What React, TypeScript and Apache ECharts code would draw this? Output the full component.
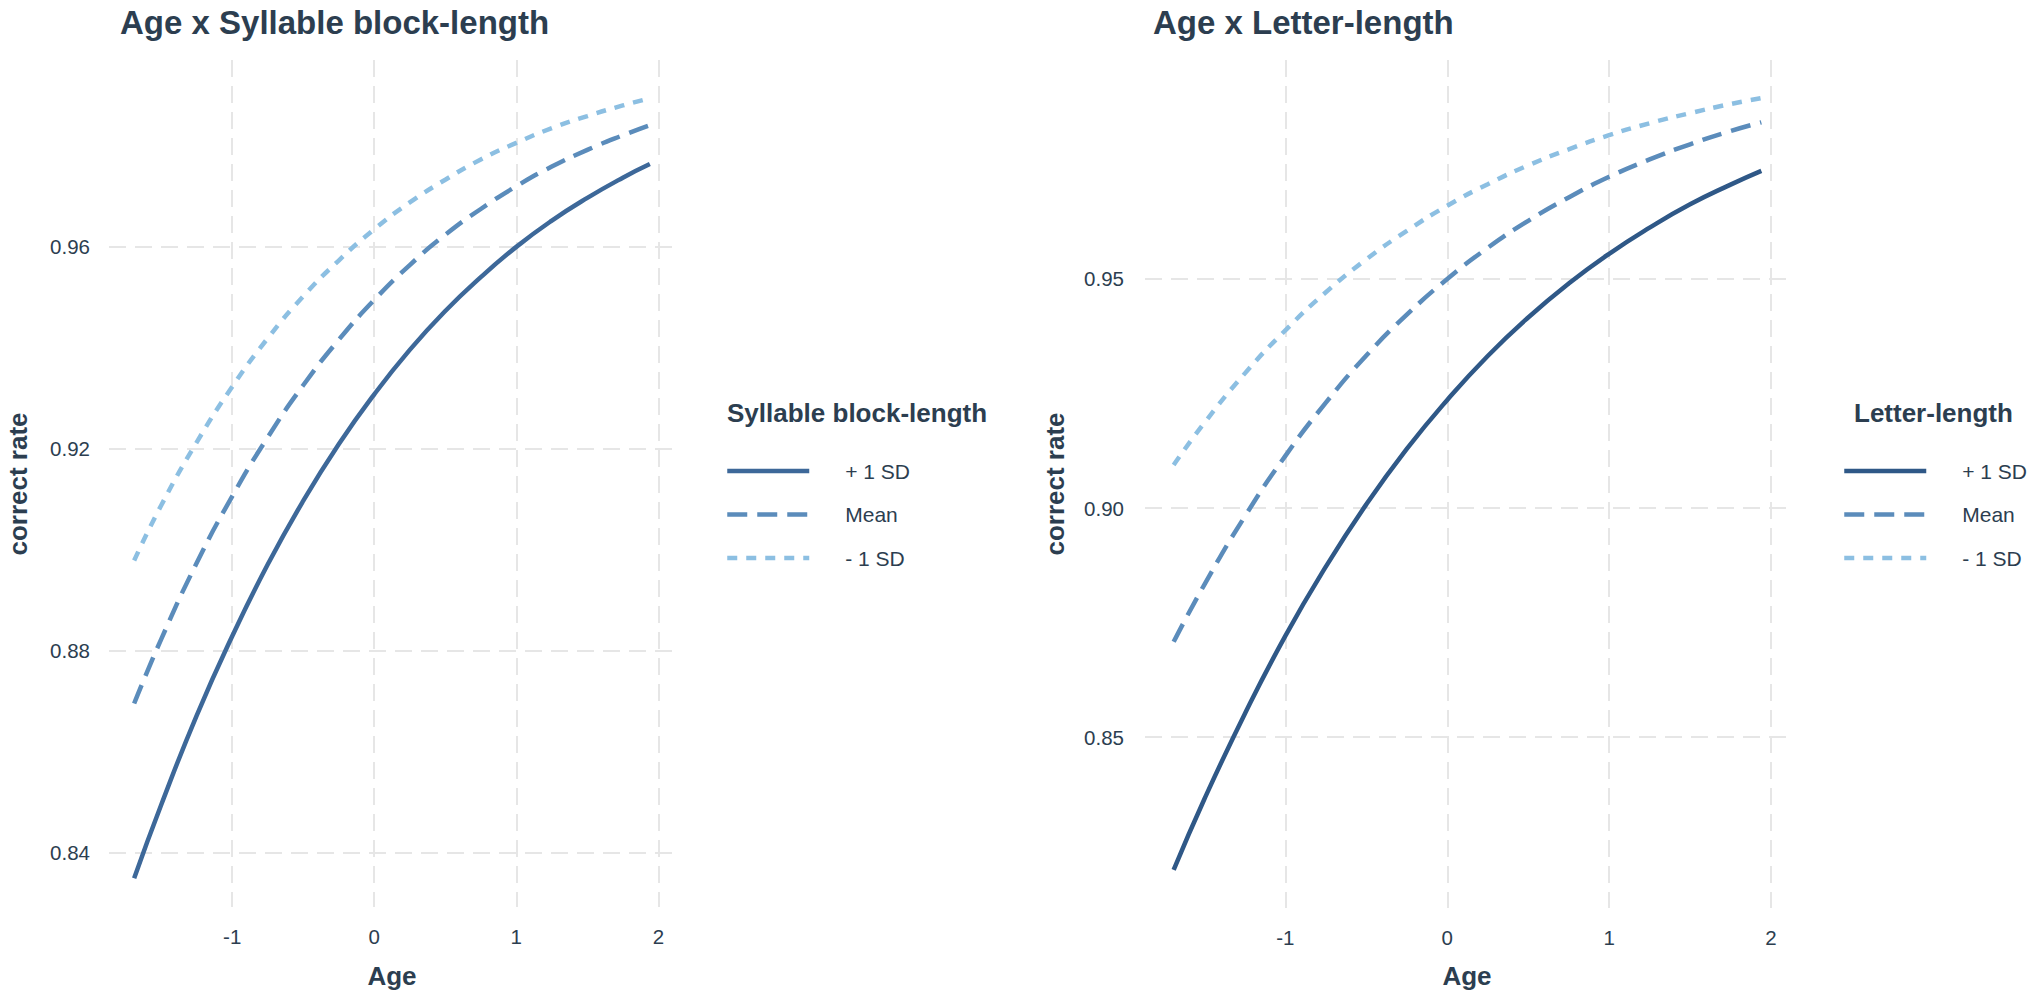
import React, { useEffect, useRef } from "react";
import * as echarts from "echarts";

// ---- data ----
const ageValues = [-1.69, -1.5, -1.25, -1, -0.75, -0.5, -0.25, 0, 0.25, 0.5, 0.75, 1, 1.25, 1.5, 1.75, 1.94];

const syllablePlus1SD = [0.835, 0.8495, 0.8672, 0.8829, 0.8971, 0.9097, 0.9209, 0.9308, 0.9396, 0.9473, 0.954, 0.96, 0.9652, 0.9697, 0.9737, 0.9764];
const syllableMean = [0.8696, 0.8823, 0.8974, 0.9106, 0.9223, 0.9326, 0.9416, 0.9495, 0.9564, 0.9624, 0.9675, 0.972, 0.9759, 0.9792, 0.9821, 0.9841];
const syllableMinus1SD = [0.8979, 0.9088, 0.9213, 0.9323, 0.9419, 0.9502, 0.9573, 0.9635, 0.9688, 0.9733, 0.9773, 0.9806, 0.9835, 0.9859, 0.988, 0.9894];

const letterPlus1SD = [0.821, 0.8365, 0.8551, 0.8721, 0.8872, 0.9008, 0.9129, 0.9236, 0.9332, 0.9416, 0.949, 0.9555, 0.9612, 0.9663, 0.9706, 0.9736];
const letterMean = [0.8708, 0.8833, 0.8982, 0.9114, 0.923, 0.9333, 0.9422, 0.95, 0.9568, 0.9627, 0.9678, 0.9723, 0.9761, 0.9794, 0.9823, 0.9842];
const letterMinus1SD = [0.9094, 0.9186, 0.9294, 0.9388, 0.9471, 0.9543, 0.9605, 0.966, 0.9707, 0.9748, 0.9783, 0.9814, 0.984, 0.9862, 0.9882, 0.9895];

const levelNames = ["+ 1 SD", "Mean", "- 1 SD"];
const xTicks = [-1, 0, 1, 2];
const syllableYTicks = [0.84, 0.88, 0.92, 0.96];
const letterYTicks = [0.85, 0.9, 0.95];

const panelTitles = ["Age x Syllable block-length", "Age x Letter-length"];
const legendTitles = ["Syllable block-length", "Letter-length"];
const xAxisTitle = "Age";
const yAxisTitle = "correct rate";

// ---- styles ----
const FONT = '"Liberation Sans", Arial, Helvetica, sans-serif';
const TEXT = "#2c3e50";
const GRID_COLOR = "#e6e6e6";
const syllableColors = ["#3d6899", "#5b8cbb", "#8cbfe2"];
const letterColors = ["#2f5887", "#5b8cbb", "#8cbfe2"];
const dashes: any[] = ["solid", [20, 10], [10, 9]];
const LINE_W = 4.5;

function buildOption() {
  const panels = [
    { values: [syllablePlus1SD, syllableMean, syllableMinus1SD], colors: syllableColors, yTicks: syllableYTicks, yMin: 0.8293, yMax: 0.997 },
    { values: [letterPlus1SD, letterMean, letterMinus1SD], colors: letterColors, yTicks: letterYTicks, yMin: 0.8127, yMax: 0.9978 },
  ];

  const grids = [
    { left: 109, top: 60, width: 566, height: 847 },
    { left: 1145, top: 60, width: 645, height: 848 },
  ];

  const splitLine = { show: true, lineStyle: { color: GRID_COLOR, width: 2, type: [17, 9] } };

  const xAxes = panels.map((_, i) => ({
    type: "value",
    gridIndex: i,
    min: -1.867,
    max: 2.117,
    axisLine: { show: false },
    axisTick: { show: false, customValues: xTicks },
    axisLabel: { customValues: xTicks, fontSize: 20.5, fontFamily: FONT, color: TEXT, margin: 19 },
    splitLine,
  }));

  const yAxes = panels.map((p, i) => ({
    type: "value",
    gridIndex: i,
    min: p.yMin,
    max: p.yMax,
    axisLine: { show: false },
    axisTick: { show: false, customValues: p.yTicks },
    axisLabel: {
      customValues: p.yTicks,
      fontSize: 20.5,
      fontFamily: FONT,
      color: TEXT,
      margin: i === 0 ? 19 : 21,
      formatter: (v: number) => v.toFixed(2),
    },
    splitLine,
  }));

  const series: any[] = [];
  panels.forEach((p, pi) => {
    p.values.forEach((vals, li) => {
      series.push({
        type: "line",
        name: levelNames[li],
        xAxisIndex: pi,
        yAxisIndex: pi,
        data: ageValues.map((a, k) => [a, vals[k]]),
        symbol: "none",
        smooth: true,
        silent: true,
        lineStyle: { color: p.colors[li], width: LINE_W, type: dashes[li], cap: "butt" },
        itemStyle: { color: p.colors[li] },
        z: 10 - li,
      });
    });
  });

  const legendLefts = [725, 1842];
  const legends = panels.map((p, pi) => ({
    orient: "vertical",
    left: legendLefts[pi],
    top: 460.5,
    itemWidth: 82,
    itemHeight: 21,
    itemGap: 22.5,
    selectedMode: false,
    padding: 0,
    textStyle: { fontSize: 21, fontFamily: FONT, color: TEXT, padding: [0, 0, 0, 31] },
    itemStyle: { opacity: 0 },
    data: levelNames.map((n, li) => ({
      name: n,
      itemStyle: { opacity: 0 },
      lineStyle: { color: p.colors[li], width: LINE_W, type: dashes[li], cap: "butt" },
    })),
  }));

  const txt = (text: string, x: number, y: number, size: number, align: string, vAlign: string, rotation = 0) => ({
    type: "text",
    x,
    y,
    rotation,
    silent: true,
    style: {
      text,
      x: 0,
      y: 0,
      fill: TEXT,
      fontSize: size,
      fontWeight: "bold",
      fontFamily: FONT,
      textAlign: align,
      textVerticalAlign: vAlign,
      align,
      verticalAlign: vAlign,
    },
  });

  const graphic = [
    txt(panelTitles[0], 120, 22, 33, "left", "middle"),
    txt(panelTitles[1], 1153, 22, 33, "left", "middle"),
    txt(yAxisTitle, 18, 484, 26, "center", "middle", Math.PI / 2),
    txt(yAxisTitle, 1055, 484, 26, "center", "middle", Math.PI / 2),
    txt(xAxisTitle, 392, 976, 26, "center", "middle"),
    txt(xAxisTitle, 1467, 976, 26, "center", "middle"),
    txt(legendTitles[0], 727, 413, 26, "left", "middle"),
    txt(legendTitles[1], 1854, 413, 26, "left", "middle"),
  ];

  return {
    animation: false,
    backgroundColor: "#ffffff",
    grid: grids,
    xAxis: xAxes,
    yAxis: yAxes,
    legend: legends,
    series,
    graphic,
  };
}

export default function App() {
  const ref = useRef<HTMLDivElement>(null);
  useEffect(() => {
    if (!ref.current) return;
    const chart = echarts.init(ref.current, null, { renderer: "svg" });
    chart.setOption(buildOption() as any);
    return () => chart.dispose();
  }, []);
  return (
    <div
      ref={ref}
      style={{ position: "absolute", left: 0, top: 0, width: 2031, height: 998, background: "#fff" }}
    />
  );
}
